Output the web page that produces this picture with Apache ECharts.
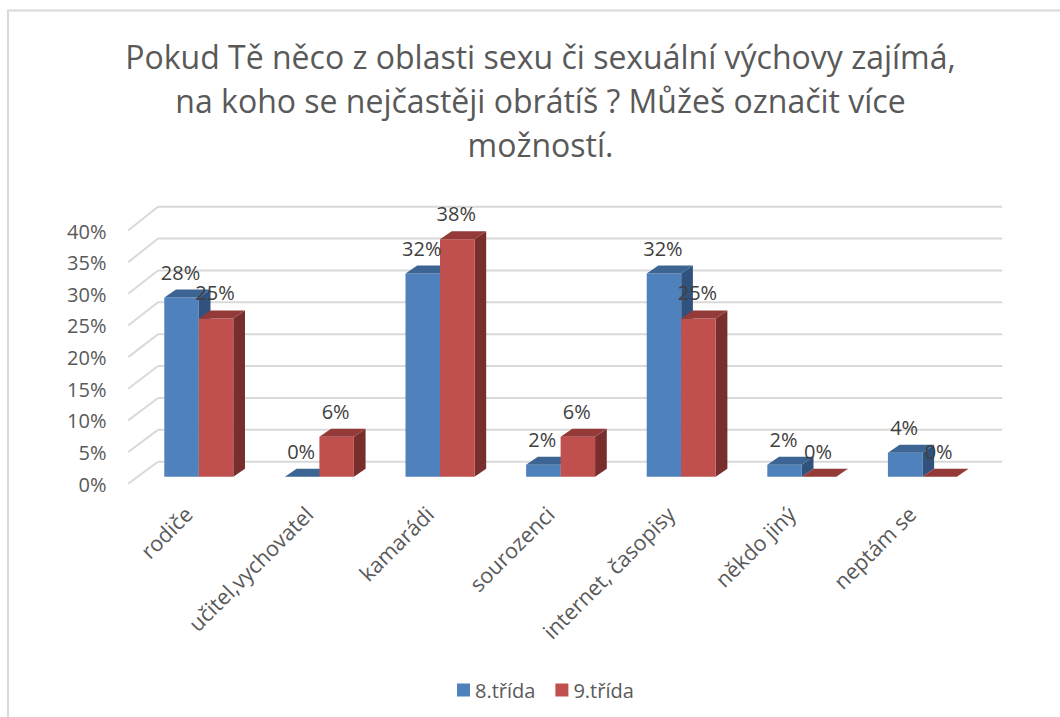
<!DOCTYPE html>
<html>
<head>
<meta charset="utf-8">
<script src="https://cdn.jsdelivr.net/npm/echarts@6/dist/echarts.min.js"></script>
<style>
html,body{margin:0;padding:0;background:#fff;}
#chart{width:1060px;height:717px;}
</style>
</head>
<body>
<div id="chart"></div>
<script>
const titleLines = ['Pokud Tě něco z oblasti sexu či sexuální výchovy zajímá,', 'na koho se nejčastěji obrátíš ? Můžeš označit více', 'možností.'];
const categories = ['rodiče', 'učitel,vychovatel', 'kamarádi', 'sourozenci', 'internet, časopisy', 'někdo jiný', 'neptám se'];
const seriesNames = ['8.třída', '9.třída'];
const values8 = [28.3, 0, 32.1, 1.9, 32.1, 1.9, 3.8];
const values9 = [25.0, 6.3, 37.5, 6.3, 25.0, 0, 0];
const yTicks = [0, 5, 10, 15, 20, 25, 30, 35, 40];

const FONT = '"Open Sans", "Liberation Sans", sans-serif';
const palette = [
  { front: '#4F81BD', top: '#3C6593', side: '#30527D' },
  { front: '#C0504D', top: '#943B39', side: '#782E2C' }
];
const DX = 11.7, DY = -8;

function barRender(sIdx) {
  return function (params, api) {
    const ci = api.value(0), v = api.value(1);
    const base = api.coord([ci, 0]);
    const top = api.coord([ci, v]);
    const band = api.size([1, 0])[0];
    const w = band * 0.286;
    const x0 = base[0] + (sIdx === 0 ? -w : 0);
    const ty = top[1], by = base[1];
    const c = palette[sIdx];
    return {
      type: 'group',
      children: [
        { type: 'polygon', shape: { points: [[x0 + w, ty], [x0 + w + DX, ty + DY], [x0 + w + DX, by + DY], [x0 + w, by]] }, style: { fill: c.side } },
        { type: 'rect', shape: { x: x0, y: ty, width: w, height: by - ty }, style: { fill: c.front } },
        { type: 'polygon', shape: { points: [[x0, ty], [x0 + w, ty], [x0 + w + DX, ty + DY], [x0 + DX, ty + DY]] }, style: { fill: c.top } }
      ]
    };
  };
}

function wallRender(params, api) {
  const v = api.value(1);
  const p = api.coord([0, v]);
  const cs = params.coordSys;
  const y = p[1];
  const xL = cs.x, xR = cs.x + cs.width;
  const backDY = -15 - 0.045 * v;
  const bx = 19.5;
  const st = { stroke: '#D9D9D9', lineWidth: 2, fill: null };
  return {
    type: 'group',
    children: [
      { type: 'line', shape: { x1: xL - 10.3, y1: y + 7, x2: xL + bx, y2: y + backDY }, style: st },
      { type: 'line', shape: { x1: xL + bx, y1: y + backDY, x2: xR + bx, y2: y + backDY }, style: st }
    ]
  };
}

function labelRender(params, api) {
  const ci = api.value(0), v = api.value(1), sIdx = api.value(2);
  const base = api.coord([ci, 0]);
  const top = api.coord([ci, v]);
  const band = api.size([1, 0])[0];
  const w = band * 0.286;
  const x0 = base[0] + (sIdx === 0 ? -w : 0);
  return {
    type: 'text',
    style: {
      text: Math.round(v) + '%',
      x: x0 + w / 2 - 1,
      y: top[1] - 25.5,
      align: 'center',
      verticalAlign: 'middle',
      fontSize: 20,
      fontFamily: FONT,
      fill: '#404040'
    }
  };
}

const labelData = [];
values8.forEach((v, i) => labelData.push([i, v, 0]));
values9.forEach((v, i) => labelData.push([i, v, 1]));

const chart = echarts.init(document.getElementById('chart'), null, { renderer: 'svg' });
chart.setOption({
  animation: false,
  backgroundColor: '#fff',
  color: [palette[0].front, palette[1].front],
  graphic: [
    { type: 'rect', shape: { x: 8, y: 10.5, width: 1200, height: 900 }, style: { fill: null, stroke: '#D9D9D9', lineWidth: 2 }, silent: true },
    {
      type: 'text', x: 540.5, y: 34, silent: true,
      style: { text: titleLines.join('\n'), align: 'center', verticalAlign: 'top', fontFamily: FONT, fontSize: 32, lineHeight: 44, fill: '#595959' }
    }
  ],
  legend: {
    data: seriesNames,
    left: 452,
    top: 675,
    icon: 'rect',
    itemWidth: 13,
    itemHeight: 13,
    itemGap: 20,
    textStyle: { fontFamily: FONT, fontSize: 20, color: '#595959' }
  },
  grid: [
    { left: 138.5, width: 844.2, top: 223.5, height: 253.2 },
    { left: 128, width: 844.2, top: 231, height: 253 }
  ],
  xAxis: [
    { type: 'category', gridIndex: 0, data: categories, show: false },
    {
      type: 'category', gridIndex: 1, data: categories,
      axisLine: { show: false }, axisTick: { show: false },
      axisLabel: { rotate: 45, margin: 26, interval: 0, fontFamily: FONT, fontSize: 21.5, color: '#595959' }
    }
  ],
  yAxis: [
    { type: 'value', gridIndex: 0, min: 0, max: 40, interval: 5, show: false },
    {
      type: 'value', gridIndex: 1, min: 0, max: 40, interval: 5,
      axisLine: { show: false }, axisTick: { show: false }, splitLine: { show: false },
      axisLabel: { margin: 21.5, fontFamily: FONT, fontSize: 20, color: '#595959', formatter: '{value}%' }
    }
  ],
  series: [
    { type: 'custom', name: 'walls', xAxisIndex: 0, yAxisIndex: 0, renderItem: wallRender, data: yTicks.map(v => [0, v]), z: 1, silent: true },
    { type: 'custom', name: seriesNames[0], xAxisIndex: 0, yAxisIndex: 0, renderItem: barRender(0), data: values8.map((v, i) => [i, v]), itemStyle: { color: palette[0].front }, z: 2 },
    { type: 'custom', name: seriesNames[1], xAxisIndex: 0, yAxisIndex: 0, renderItem: barRender(1), data: values9.map((v, i) => [i, v]), itemStyle: { color: palette[1].front }, z: 3 },
    { type: 'custom', name: 'labels', xAxisIndex: 0, yAxisIndex: 0, renderItem: labelRender, data: labelData, z: 4, silent: true }
  ]
});
</script>
</body>
</html>
